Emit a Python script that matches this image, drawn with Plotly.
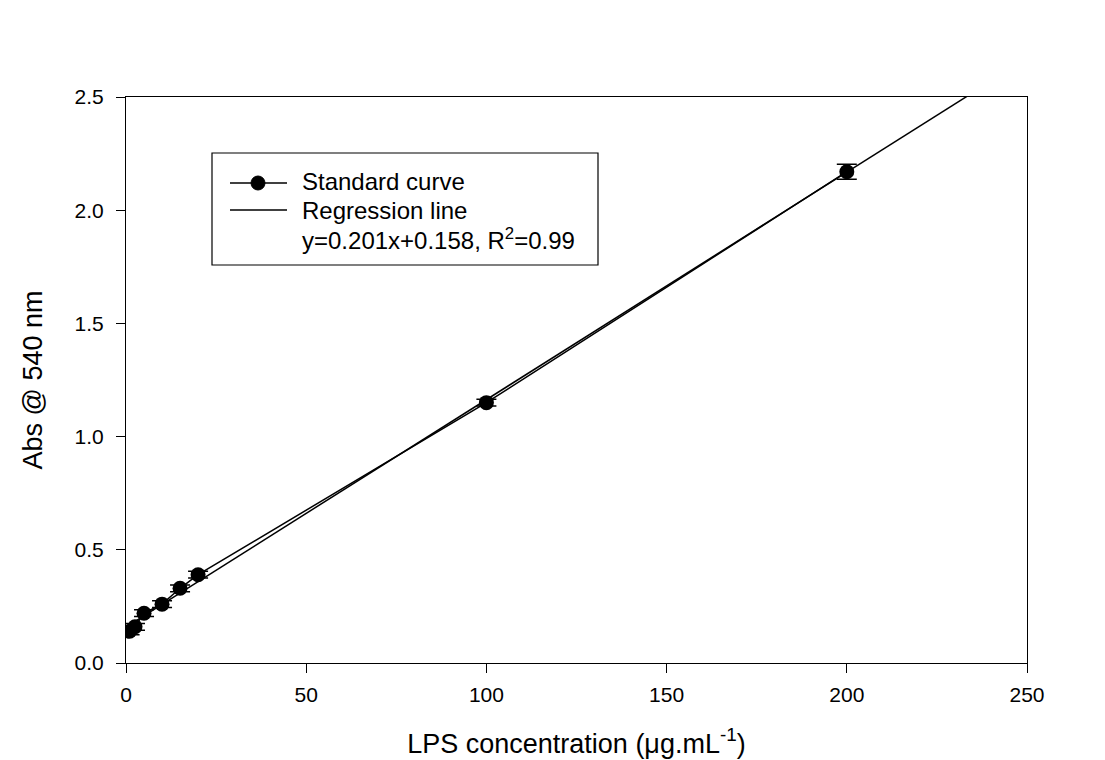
import numpy as np
import plotly.graph_objects as go

# Data
lps_conc = [1, 2.5, 5, 10, 15, 20, 100, 200]
absorbance = [0.14, 0.16, 0.22, 0.26, 0.33, 0.39, 1.15, 2.17]
abs_err = [0.015, 0.015, 0.015, 0.015, 0.015, 0.015, 0.015, 0.033]

x_ticks = [0, 50, 100, 150, 200, 250]
y_ticks = [0.0, 0.5, 1.0, 1.5, 2.0, 2.5]

legend_labels = ["Standard curve", "Regression line",
                 "y=0.201x+0.158, R<sup>2</sup>=0.99"]

# Linear regression through the measured points
slope, intercept = np.polyfit(lps_conc, absorbance, 1)
reg_x = np.array([0, 250])
reg_y = slope * reg_x + intercept

FONT = "Liberation Sans, Arial, sans-serif"

# plot-area geometry in pixels (for the hand-drawn legend box)
W, H = 1105, 760
L, R, T, B = 126, 78, 97, 97
PW, PH = W - L - R, H - T - B


def px(xp):
    return (xp - L) / PW


def py(yp):
    return (H - B - yp) / PH


fig = go.Figure()
fig.add_trace(go.Scatter(
    x=lps_conc, y=absorbance, mode="lines+markers", name=legend_labels[0],
    line=dict(color="black", width=1.5),
    marker=dict(symbol="circle", size=15, color="black"),
    error_y=dict(type="data", array=abs_err, visible=True, color="black",
                 thickness=1.5, width=10),
    showlegend=False,
))
fig.add_trace(go.Scatter(
    x=reg_x, y=reg_y, mode="lines", name=legend_labels[1],
    line=dict(color="black", width=1.5), showlegend=False,
))

axis_common = dict(
    showgrid=False, zeroline=False, showline=True, linecolor="black",
    linewidth=1.2, mirror=True, ticks="outside", ticklen=9, tickwidth=1.2,
    tickcolor="black", tickfont=dict(family=FONT, size=21, color="black"),
    automargin=False,
)

# hand-drawn legend (box, symbols, text)
shapes = [
    dict(type="rect", xref="paper", yref="paper",
         x0=px(212), x1=px(598), y0=py(265), y1=py(153),
         line=dict(color="black", width=1.2), fillcolor="white", layer="above"),
    dict(type="line", xref="paper", yref="paper",
         x0=px(230), x1=px(287), y0=py(183), y1=py(183),
         line=dict(color="black", width=1.5)),
    dict(type="circle", xref="paper", yref="paper",
         x0=px(251), x1=px(265), y0=py(190), y1=py(176),
         line=dict(color="black", width=1), fillcolor="black"),
    dict(type="line", xref="paper", yref="paper",
         x0=px(230), x1=px(287), y0=py(210), y1=py(210),
         line=dict(color="black", width=1.5)),
]
annotations = []
for label, yy in zip(legend_labels, [182, 210, 239]):
    annotations.append(dict(
        xref="paper", yref="paper", x=px(300), y=py(yy),
        xanchor="left", yanchor="middle", showarrow=False, text=label,
        font=dict(family=FONT, size=24, color="black"),
    ))

fig.update_layout(
    width=W, height=H,
    margin=dict(l=L, r=R, t=T, b=B),
    paper_bgcolor="white", plot_bgcolor="white",
    font=dict(family=FONT, color="black"),
    xaxis=dict(range=[0, 250], tickvals=x_ticks,
               ticktext=[str(v) for v in x_ticks], ticklabelstandoff=4,
               title=dict(text="LPS concentration (μg.mL<sup>-1</sup>)",
                          font=dict(family=FONT, size=27), standoff=28),
               **axis_common),
    yaxis=dict(range=[0, 2.5], tickvals=y_ticks,
               ticktext=[f"{v:.1f}" for v in y_ticks], ticklabelstandoff=8,
               title=dict(text="Abs @ 540 nm",
                          font=dict(family=FONT, size=27), standoff=24),
               **axis_common),
    shapes=shapes,
    annotations=annotations,
    showlegend=False,
)

fig.write_html("out.html")
